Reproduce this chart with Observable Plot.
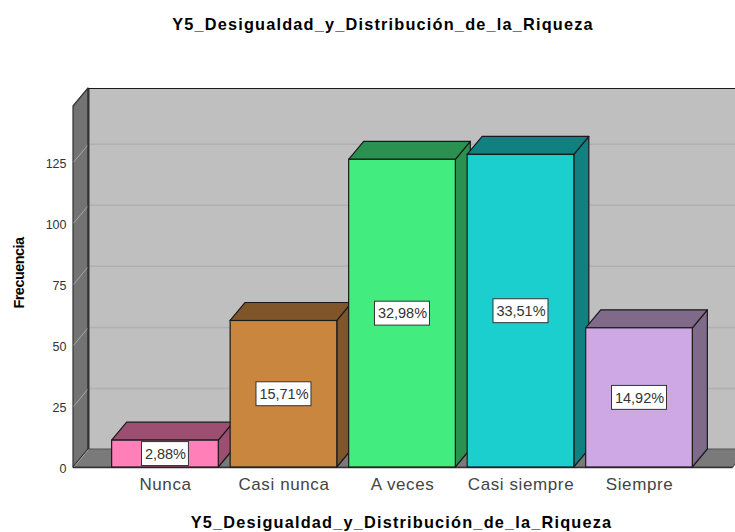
<!DOCTYPE html>
<html>
<head>
<meta charset="utf-8">
<style>
html,body{margin:0;padding:0;background:#fff;}
#title{height:50px;width:735px;text-align:center;font:bold 16.3px/48px "Liberation Sans",Arial,sans-serif;letter-spacing:1.2px;color:#000;padding-left:31px;box-sizing:border-box;}
svg{display:block;}
[aria-label="x-title"], [aria-label="x-title"] text{letter-spacing:1.2px;}
[aria-label="y-title"], [aria-label="y-title"] text{letter-spacing:-.55px;}
g[aria-label="x-axis tick label"] text{letter-spacing:.6px;}
</style>
<script src="https://cdn.jsdelivr.net/npm/d3@7"></script>
<script src="https://cdn.jsdelivr.net/npm/@observablehq/plot@0.6"></script>
</head>
<body>
<div id="title">Y5_Desigualdad_y_Distribución_de_la_Riqueza</div>
<div id="chart"></div>
<script>
const categories = ["Nunca","Casi nunca","A veces","Casi siempre","Siempre"];
const counts = [11,60,126,128,57];
const percents = ["2,88%","15,71%","32,98%","33,51%","14,92%"];
const frontFill = ["#FF80B8","#C9863F","#42EC7E","#1CCFCF","#CEA8E4"];
const sideFill = ["#9C4F70","#7F5529","#2A9150","#118080","#7F6A8A"];
const yTicks = [0,25,50,75,100,125];
const axisTitle = "Y5_Desigualdad_y_Distribución_de_la_Riqueza";
const yTitle = "Frecuencia";

const dx = 0.1266, dy = 7.37;          // depth of the 3D projection in scale units
const halfBar = 0.45;
const xMin = -0.776, xMax = 4.81, xFloorEnd = 4.79, yMax = 155.2;
const ink = "#1a1a1a";

// a parallelogram between edge a and edge b, each {x1,y1,x2,y2}
const face = (a, b, fill, stroke = ink) =>
  Plot.area([a, b], {x1:"x1", y1:"y1", x2:"x2", y2:"y2", fill, stroke, strokeWidth:1.2, strokeLinejoin:"round"});
const shift = (e) => ({x1:e.x1+dx, y1:e.y1+dy, x2:e.x2+dx, y2:e.y2+dy});

const bars = categories.flatMap((c,i) => {
  const l = i-halfBar, r = i+halfBar, t = counts[i];
  const topEdge = {x1:l, y1:t, x2:r, y2:t};
  const sideEdge = {x1:r, y1:0, x2:r, y2:t};
  return [
    face(sideEdge, shift(sideEdge), sideFill[i]),
    face(topEdge, shift(topEdge), sideFill[i]),
    Plot.rect([i], {x1:l, x2:r, y1:0, y2:t, fill:frontFill[i], stroke:ink, strokeWidth:1.2})
  ];
});

const labels = categories.flatMap((c,i) => {
  const half = percents[i].length === 5 ? 0.198 : 0.232, mid = counts[i]/2;
  return [
    Plot.rect([i], {x1:i-half, x2:i+half, y1:mid-4.9, y2:mid+4.9, fill:"#fff", stroke:"#333", strokeWidth:1}),
    Plot.text([percents[i]], {x:i, y:mid, text:d=>d, fontSize:14.5, fill:"#333", fontFamily:"Liberation Sans"})
  ];
});

const chart = Plot.plot({
  width:735, height:482,
  marginLeft:73, marginRight:0, marginTop:38, marginBottom:65,
  style:{fontFamily:"Liberation Sans", background:"#fff", overflow:"hidden"},
  x:{domain:[xMin,xMax], axis:null},
  y:{domain:[0,yMax], axis:null},
  marks:[
    // back wall
    Plot.rect([0], {x1:xMin+dx, x2:xMax+2*dx, y1:dy, y2:yMax, fill:"#BFBFBF"}),
    Plot.ruleY(yTicks.slice(1), {y:d=>d+dy, x1:xMin+dx, x2:xMax+2*dx, stroke:"#B0B0B0", strokeWidth:1.5}),
    // floor
    face({x1:xMin,y1:0,x2:xFloorEnd,y2:0},{x1:xMin+dx,y1:dy,x2:xFloorEnd+dx,y2:dy},"#7A7A7A","#555"),
    // side wall
    face({x1:xMin,y1:0,x2:xMin,y2:yMax-dy},{x1:xMin+dx,y1:dy,x2:xMin+dx,y2:yMax},"#737373","#333"),
    Plot.link(yTicks, {x1:xMin, y1:d=>d, x2:xMin+dx, y2:d=>d+dy, stroke:"#A6A6A6", strokeWidth:1}),
    Plot.ruleX([xMin+dx], {y1:dy, y2:yMax, stroke:"#333", strokeWidth:2}),
    Plot.ruleY([yMax], {x1:xMin+dx, x2:xMax+2*dx, stroke:ink, strokeWidth:1.2}),
    Plot.ruleY([0], {x1:xMin, x2:xFloorEnd, stroke:"#333", strokeWidth:1.5}),
    ...bars,
    ...labels,
    Plot.axisY({ticks:yTicks, tickSize:0, tickPadding:7, label:null, fontSize:12.5, color:"#333", anchor:"left", dy:1.5}),
    Plot.axisX({ticks:d3.range(categories.length), tickFormat:i=>categories[i], tickSize:0, tickPadding:10, label:null, fontSize:17, color:"#444", anchor:"bottom"}),
    Plot.text([axisTitle], {frameAnchor:"bottom", text:d=>d, ariaLabel:()=>"x-title", dx:-3, dy:60, fontSize:16.3, fontWeight:"bold", fill:"#000"}),
    Plot.text([yTitle], {frameAnchor:"left", textAnchor:"middle", text:d=>d, ariaLabel:()=>"y-title", rotate:-90, dx:-54, dy:-5, fontSize:14.5, fontWeight:"bold", fill:"#000"})
  ]
});
document.getElementById("chart").append(chart);
</script>
</body>
</html>
